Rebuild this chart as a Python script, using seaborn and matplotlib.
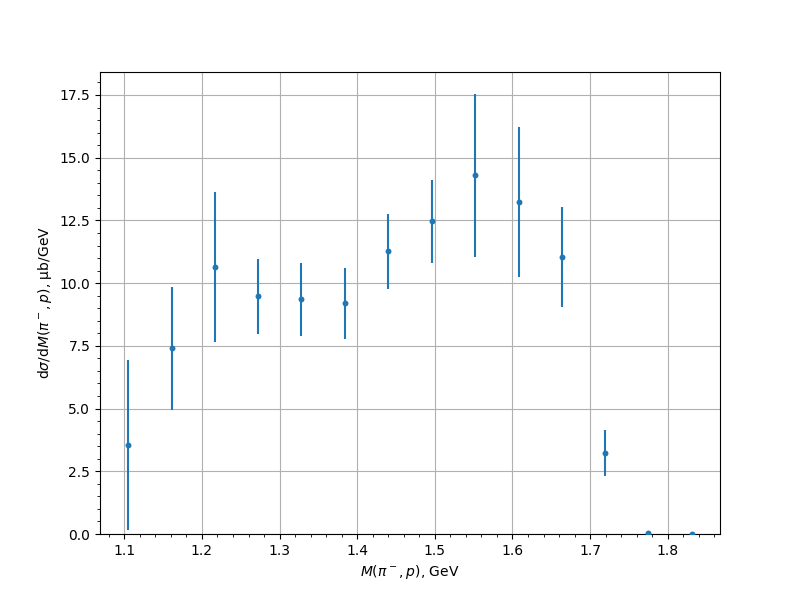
import numpy as np
import pandas as pd
import matplotlib
matplotlib.use("Agg")
import matplotlib.pyplot as plt
import seaborn as sns

# bin centres, GeV
mass = [1.105, 1.161, 1.217, 1.272, 1.328, 1.384, 1.440,
        1.496, 1.552, 1.608, 1.664, 1.719, 1.775, 1.831]
# cross section, mub/GeV
xsec = [3.55, 7.40, 10.64, 9.48, 9.36, 9.20, 11.27,
        12.47, 14.30, 13.23, 11.05, 3.23, 0.05, 0.01]
# errors
xsec_err = [3.38, 2.45, 3.00, 1.49, 1.45, 1.41, 1.49,
            1.65, 3.24, 3.00, 2.00, 0.90, 0.0, 0.0]

df = pd.DataFrame({"mass": mass, "xsec": xsec, "err": xsec_err})

fig, ax = plt.subplots(figsize=(8, 6), dpi=100)

ax.errorbar(df["mass"], df["xsec"], yerr=df["err"], fmt="none", ecolor="C0")
sns.scatterplot(data=df, x="mass", y="xsec", ax=ax, color="C0",
                s=18, linewidth=0, zorder=3)

ax.set_ylim(bottom=0)
ax.grid(True)
ax.minorticks_on()
ax.set_xlabel(r"$M(\pi^-,p)$, GeV")
ax.set_ylabel(r"d$\sigma$/d$M(\pi^-,p)$, μb/GeV")

fig.savefig("out.png", dpi=100)
